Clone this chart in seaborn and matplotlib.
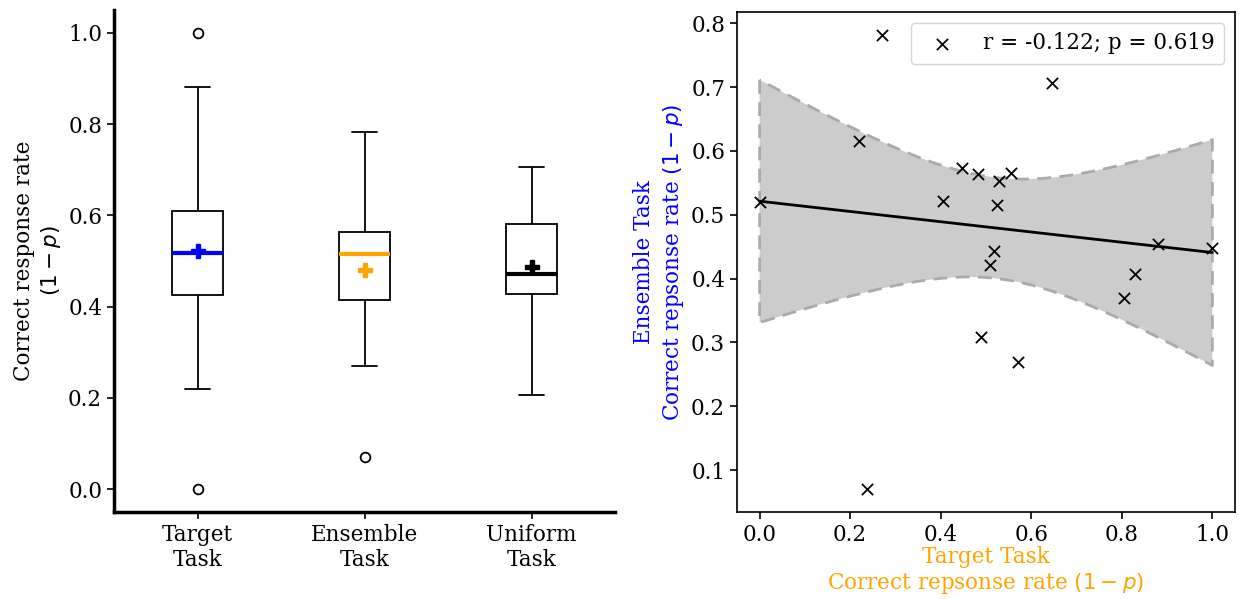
import numpy as np
import pandas as pd
import matplotlib
matplotlib.use("Agg")
import matplotlib.pyplot as plt
import seaborn as sns

# Per-participant correct response rates (1 - p)
target_task = [0.000, 0.219, 0.271, 0.237, 0.406, 0.446, 0.482, 0.529, 0.524,
               0.556, 0.646, 0.517, 0.509, 0.490, 0.571, 0.804, 0.830, 0.881, 1.000]
ensemble_task = [0.520, 0.616, 0.782, 0.070, 0.521, 0.573, 0.564, 0.553, 0.515,
                 0.565, 0.707, 0.443, 0.421, 0.309, 0.269, 0.369, 0.407, 0.454, 0.448]
uniform_task = [0.206, 0.290, 0.350, 0.400, 0.425, 0.431, 0.445, 0.455, 0.463,
                0.471, 0.490, 0.520, 0.550, 0.572, 0.590, 0.610, 0.620, 0.660, 0.706]

task_labels = ["Target\nTask", "Ensemble\nTask", "Uniform\nTask"]
task_colors = ["blue", "orange", "black"]
stat_label = "r = -0.122; p = 0.619"

sns.set_theme(style="ticks")
plt.rcParams["font.family"] = ["DejaVu Serif"]
plt.rcParams["mathtext.fontset"] = "dejavusans"
plt.rcParams["text.color"] = "black"
plt.rcParams["axes.labelcolor"] = "black"
plt.rcParams["xtick.color"] = "black"
plt.rcParams["ytick.color"] = "black"
FS = 15.5

long_df = pd.DataFrame({
    "task": np.repeat(task_labels, [len(target_task), len(ensemble_task), len(uniform_task)]),
    "rate": target_task + ensemble_task + uniform_task,
})

fig = plt.figure(figsize=(12.39, 5.99), dpi=100)
W, H = 1239, 599
ax1 = fig.add_axes([114 / W, 1 - 512 / H, (615 - 114) / W, (512 - 10) / H])
ax2 = fig.add_axes([737 / W, 1 - 512 / H, (1235 - 737) / W, (512 - 12) / H])

# ---- Left: box plots per task ----
for label, col in zip(task_labels, task_colors):
    sns.boxplot(
        data=long_df[long_df["task"] == label], x="task", y="rate", order=task_labels,
        ax=ax1, width=0.3, color="white", linecolor="black", linewidth=1.3,
        showmeans=True,
        medianprops={"color": col, "linewidth": 3},
        meanprops={"marker": "P", "markerfacecolor": col, "markeredgecolor": col,
                   "markersize": 10},
        flierprops={"marker": "o", "markerfacecolor": "none",
                    "markeredgecolor": "black", "markersize": 7, "markeredgewidth": 1.3},
    )
ax1.set_xlim(-0.5, 2.5)
ax1.set_ylim(-0.05, 1.05)
ax1.set_yticks([0.0, 0.2, 0.4, 0.6, 0.8, 1.0])
ax1.set_xlabel("")
ax1.set_ylabel("Correct response rate\n$(1-p)$", fontsize=FS)
ax1.tick_params(labelsize=FS, width=1.2, length=5, color="black", labelcolor="black")
sns.despine(ax=ax1)
for side in ("left", "bottom"):
    ax1.spines[side].set_linewidth(2.5)
    ax1.spines[side].set_color("black")

# ---- Right: regression of ensemble vs target ----
x = np.asarray(target_task)
y = np.asarray(ensemble_task)
sns.regplot(x=x, y=y, ax=ax2, ci=None, scatter=False, color="black",
            line_kws={"linewidth": 2, "zorder": 3})

# 95% confidence band of the fitted line (t-based)
n = len(x)
slope, intercept = np.polyfit(x, y, 1)
resid = y - (intercept + slope * x)
s_err = np.sqrt(np.sum(resid ** 2) / (n - 2))
sxx = np.sum((x - x.mean()) ** 2)
t_crit = 2.1098  # t(0.975, df=17)
grid = np.linspace(x.min(), x.max(), 200)
fit = intercept + slope * grid
half = t_crit * s_err * np.sqrt(1 / n + (grid - x.mean()) ** 2 / sxx)
ax2.fill_between(grid, fit - half, fit + half, facecolor="#cccccc", edgecolor="#aaaaaa",
                 linestyle=(0, (5, 3)), linewidth=2, zorder=1)

sns.scatterplot(x=target_task, y=ensemble_task, ax=ax2, marker="x", color="black",
                s=65, linewidth=1.3, label=stat_label, zorder=5)
ax2.legend(loc="upper right", fontsize=FS, frameon=True, handletextpad=0.9,
           borderpad=0.45)

ax2.set_xticks([0.0, 0.2, 0.4, 0.6, 0.8, 1.0])
ax2.set_yticks([0.1, 0.2, 0.3, 0.4, 0.5, 0.6, 0.7, 0.8])
ax2.tick_params(labelsize=FS, width=1.2, length=5, color="black", labelcolor="black")
for s in ax2.spines.values():
    s.set_color("black")
    s.set_linewidth(1.2)
ax2.set_xlabel("Target Task\nCorrect repsonse rate $(1-p)$", color="orange",
               fontsize=FS, labelpad=0)
ax2.set_ylabel("Ensemble Task\nCorrect repsonse rate $(1-p)$", color="blue",
               fontsize=FS, linespacing=1.3)

fig.savefig("out.png", dpi=100)
